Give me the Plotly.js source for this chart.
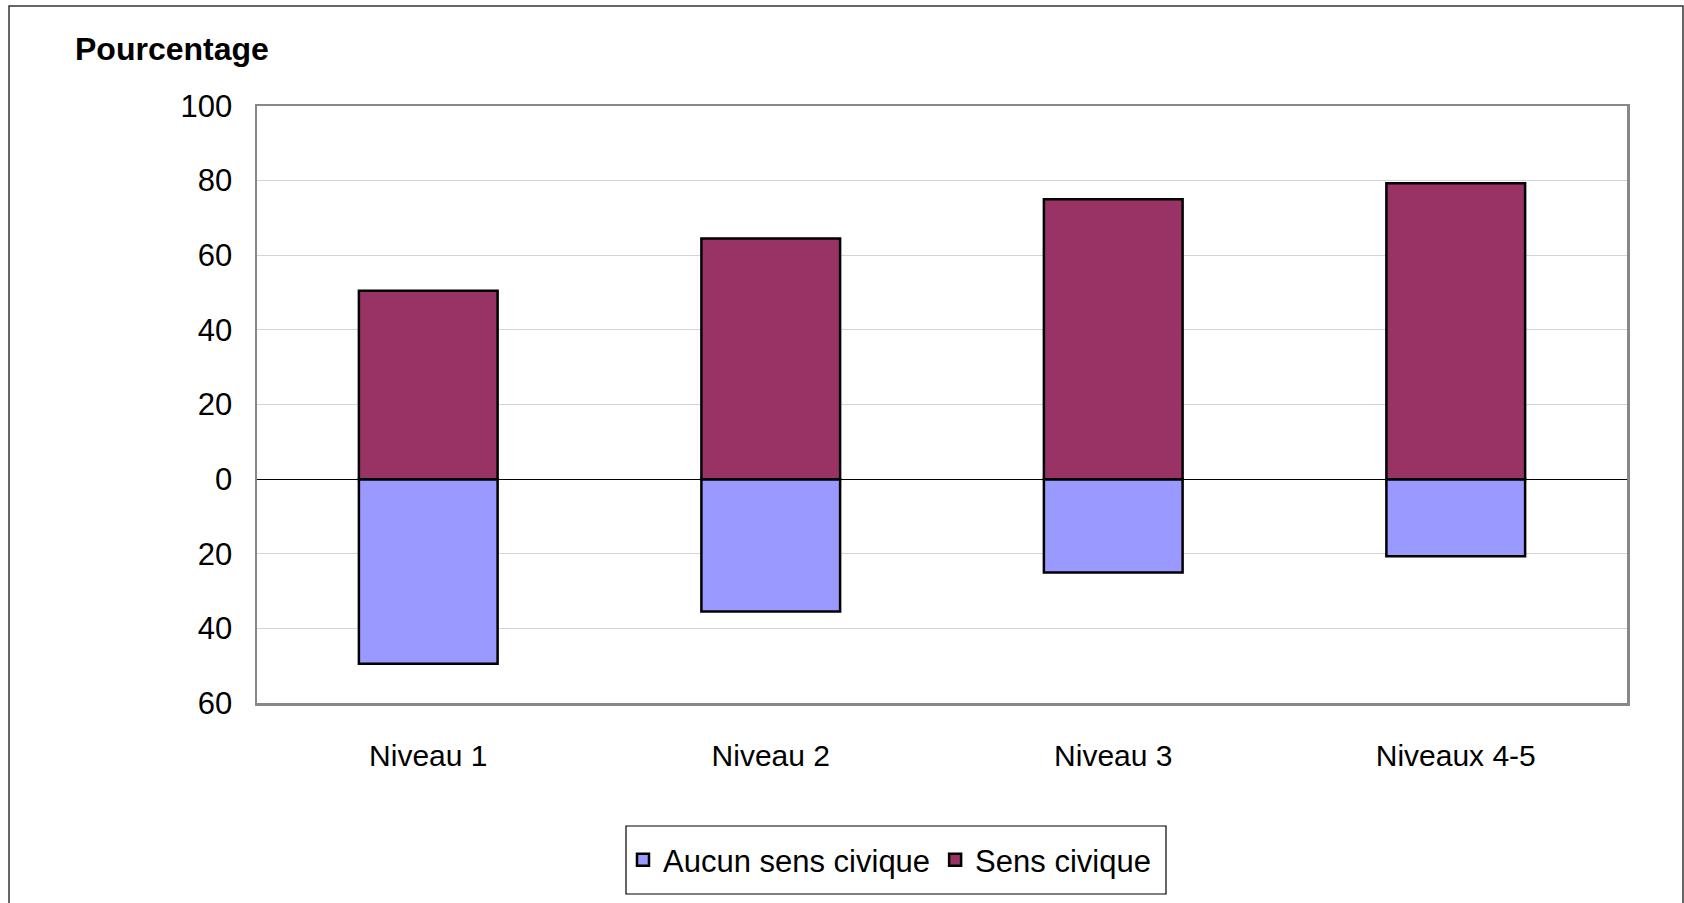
<!DOCTYPE html>
<html>
<head>
<meta charset="utf-8">
<script src="https://cdn.plot.ly/plotly-3.0.1.min.js"></script>
<style>
  html, body { margin: 0; padding: 0; background: #ffffff; }
  #chart { width: 1684px; height: 903px; }
</style>
</head>
<body>
<div id="chart"></div>
<script>
const categories = ["Niveau 1", "Niveau 2", "Niveau 3", "Niveaux 4-5"];
const aucunSensCivique = [49.5, 35.5, 25.0, 20.7];
const sensCivique = [50.5, 64.5, 75.0, 79.3];
const yTickValues = [-60, -40, -20, 0, 20, 40, 60, 80, 100];
const yTickLabels = ["60", "40", "20", "0", "20", "40", "60", "80", "100"];

const FONT = "Liberation Sans, Arial, sans-serif";
const W = 1684, H = 903;
const M = { l: 257, r: 57, t: 106, b: 200 };
const pw = W - M.l - M.r, ph = H - M.t - M.b;
const px2x = (px) => (px - M.l) / pw;
const py2y = (py) => (H - M.b - py) / ph;

const traces = [
  {
    type: "bar",
    name: "Aucun sens civique",
    x: categories,
    y: aucunSensCivique.map(v => -v),
    marker: { color: "#9999FF", line: { color: "#000000", width: 2.5 } },
    hoverinfo: "x+name"
  },
  {
    type: "bar",
    name: "Sens civique",
    x: categories,
    y: sensCivique,
    marker: { color: "#993366", line: { color: "#000000", width: 2.5 } },
    hoverinfo: "x+y+name"
  }
];

const layout = {
  width: W,
  height: H,
  margin: M,
  paper_bgcolor: "#ffffff",
  plot_bgcolor: "#ffffff",
  barmode: "relative",
  bargap: 0.595,
  font: { family: FONT, size: 30, color: "#000000" },
  showlegend: true,
  legend: {
    orientation: "h",
    x: px2x(623),
    xanchor: "left",
    y: py2y(860),
    yanchor: "middle",
    borderwidth: 0,
    bgcolor: "rgba(0,0,0,0)",
    font: { family: FONT, size: 31, color: "#000000" },
    traceorder: "normal"
  },
  xaxis: {
    showgrid: false,
    showline: true,
    linecolor: "#888888",
    linewidth: 2.5,
    mirror: true,
    ticks: "outside",
    ticklen: 24,
    tickcolor: "rgba(0,0,0,0)",
    tickfont: { family: FONT, size: 30, color: "#000000" },
    fixedrange: true
  },
  yaxis: {
    range: [-60, 100],
    tickvals: yTickValues,
    ticktext: yTickLabels,
    showgrid: true,
    gridcolor: "#d4d4d4",
    gridwidth: 1,
    zeroline: true,
    zerolinecolor: "#000000",
    zerolinewidth: 1.2,
    showline: true,
    linecolor: "#888888",
    linewidth: 2.5,
    mirror: true,
    ticks: "outside",
    ticklen: 16,
    tickcolor: "rgba(0,0,0,0)",
    tickfont: { family: FONT, size: 31, color: "#000000" },
    fixedrange: true
  },
  annotations: [
    {
      text: "<b>Pourcentage</b>",
      xref: "paper", yref: "paper",
      x: px2x(73), xanchor: "left",
      y: py2y(49), yanchor: "middle",
      showarrow: false,
      font: { family: FONT, size: 32, color: "#000000" }
    }
  ],
  shapes: [
    {
      type: "rect",
      xref: "paper", yref: "paper",
      x0: px2x(9), x1: px2x(1683),
      y0: py2y(910), y1: py2y(6),
      line: { color: "#333333", width: 1.5 },
      fillcolor: "rgba(0,0,0,0)",
      layer: "below"
    },
    {
      type: "rect",
      xref: "paper", yref: "paper",
      x0: px2x(626), x1: px2x(1166),
      y0: py2y(894), y1: py2y(826),
      line: { color: "#000000", width: 1.2 },
      fillcolor: "rgba(0,0,0,0)",
      layer: "above"
    }
  ]
};

Plotly.newPlot("chart", traces, layout, { displayModeBar: false, staticPlot: true });
</script>
</body>
</html>
